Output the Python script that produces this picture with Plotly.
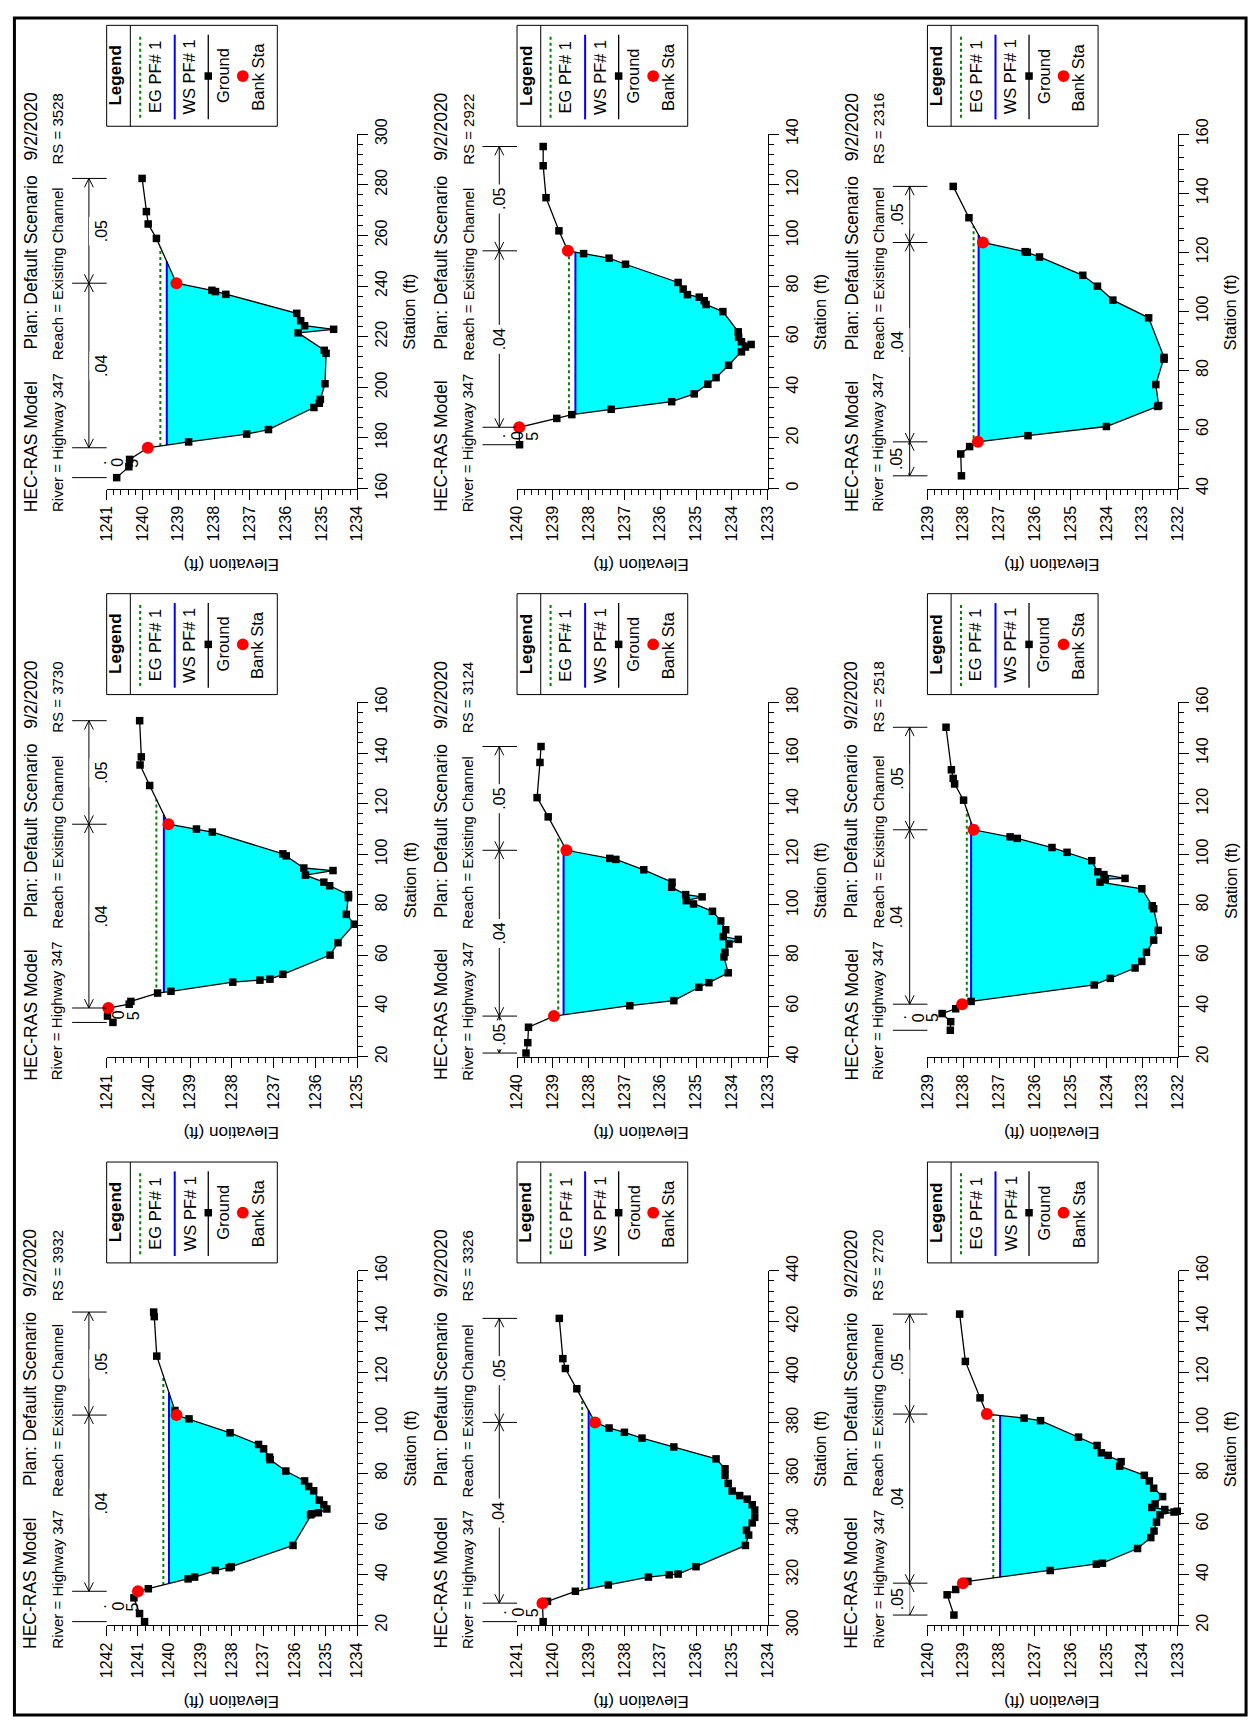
import numpy as np
import plotly.graph_objects as go

FIG_W, FIG_H = 1259, 1732
ROW_H = FIG_H / 3.0
COL_W = 416.0
FONT = "Liberation Sans, Arial, Helvetica, sans-serif"

# panel-relative pixel frame of each cross-section plot
PLOT_L, PLOT_R = 99, 353     # elevation axis (horizontal, reversed)
PLOT_T, PLOT_B = 120, 480    # station axis (vertical, on the right)
N_LINE_X = 81                # Manning's n bar
TICK_X0, TICK_X1 = 64, 99

# ---------------- cross-section data ----------------
river_sta = ["3528", "2922", "2316", "3730", "3124", "2518", "3932", "3326", "2720"]

sta_3528 = [164.3, 168.6, 171.5, 176.1, 178.4, 181.5, 183.3, 192.0, 193.7, 195.2, 201.4, 213.4, 214.6,
            221.5, 222.9, 224.3, 226.3, 229.2, 236.7, 237.8, 238.3, 241.1, 258.8, 264.5, 269.4, 282.5]
elev_3528 = [1240.72, 1240.38, 1240.36, 1239.85, 1238.71, 1237.09, 1236.48, 1235.21, 1235.06, 1235.03,
             1234.90, 1234.87, 1234.92, 1235.65, 1234.66, 1235.47, 1235.58, 1235.69, 1237.67, 1237.96,
             1238.06, 1239.05, 1239.61, 1239.84, 1239.89, 1240.01]

sta_2922 = [17.3, 24.2, 27.7, 29.2, 31.3, 34.3, 37.4, 41.2, 43.8, 48.7, 54.0, 55.9, 56.9, 58.0, 59.8, 61.9,
            69.9, 72.7, 74.2, 75.6, 76.6, 78.8, 81.4, 88.6, 91.0, 92.8, 93.9, 101.8, 114.9, 127.5, 135.1]
elev_2922 = [1239.93, 1239.94, 1238.89, 1238.47, 1237.37, 1235.68, 1235.05, 1234.67, 1234.44, 1234.09,
             1233.73, 1233.62, 1233.46, 1233.73, 1233.81, 1233.82, 1234.25, 1234.72, 1234.77, 1234.91,
             1235.24, 1235.36, 1235.50, 1236.97, 1237.43, 1238.14, 1238.58, 1238.83, 1239.19, 1239.27,
             1239.27]

sta_2316 = [44.3, 51.7, 54.2, 55.8, 57.9, 61.0, 67.8, 68.1, 75.2, 83.8, 84.4, 97.8, 103.8, 108.5, 112.2,
            118.4, 120.0, 120.2, 123.3, 131.7, 142.3]
elev_2316 = [1238.05, 1238.07, 1237.82, 1237.59, 1236.19, 1234.00, 1232.57, 1232.54, 1232.62, 1232.39,
             1232.39, 1232.82, 1233.82, 1234.25, 1234.66, 1235.87, 1236.21, 1236.27, 1237.45, 1237.84,
             1238.28]

sta_3730 = [33.6, 36.1, 39.3, 40.8, 41.9, 45.2, 45.9, 49.5, 50.3, 50.7, 52.6, 60.2, 65.1, 72.4, 76.3, 82.9,
            84.1, 87.6, 89.0, 91.8, 93.6, 94.6, 99.4, 100.2, 108.8, 110.0, 111.9, 127.2, 135.3, 138.5, 152.8]
elev_3730 = [1240.85, 1240.98, 1240.96, 1240.46, 1240.42, 1239.78, 1239.46, 1237.98, 1237.33, 1237.09,
             1236.78, 1235.65, 1235.46, 1235.07, 1235.26, 1235.21, 1235.21, 1235.66, 1235.80, 1236.24,
             1235.58, 1236.28, 1236.70, 1236.78, 1238.47, 1238.85, 1239.52, 1239.97, 1240.20, 1240.17,
             1240.21]

sta_3124 = [41.5, 45.6, 51.7, 56.1, 60.2, 62.2, 67.5, 69.3, 73.2, 79.5, 81.3, 84.6, 86.4, 87.5, 90.2, 93.7,
            97.5, 100.4, 101.7, 103.2, 104.1, 107.0, 109.0, 113.9, 118.0, 118.4, 121.6, 134.8, 142.4, 156.3,
            162.6]
elev_3124 = [1239.75, 1239.70, 1239.68, 1238.97, 1236.85, 1235.62, 1234.92, 1234.64, 1234.10, 1234.22,
             1234.19, 1234.08, 1233.82, 1234.24, 1234.17, 1234.31, 1234.54, 1235.07, 1235.27, 1234.83,
             1235.29, 1235.68, 1235.67, 1236.46, 1237.24, 1237.41, 1238.62, 1239.13, 1239.44, 1239.36,
             1239.33]

sta_2518 = [30.5, 33.9, 37.1, 39.0, 40.8, 41.9, 48.4, 51.0, 55.1, 57.7, 61.3, 66.1, 70.0, 78.5, 79.7, 86.4,
            89.0, 90.2, 90.5, 92.0, 93.1, 97.5, 100.8, 102.7, 106.3, 106.9, 109.7, 121.4, 127.8, 130.0,
            133.4, 150.2]
elev_2518 = [1238.36, 1238.35, 1238.59, 1238.21, 1238.03, 1237.78, 1234.34, 1233.89, 1233.20, 1233.01,
             1232.88, 1232.68, 1232.55, 1232.68, 1232.72, 1233.01, 1234.18, 1234.03, 1233.48, 1234.07,
             1234.24, 1234.41, 1235.10, 1235.52, 1236.49, 1236.69, 1237.71, 1237.99, 1238.24, 1238.28,
             1238.33, 1238.48]

sta_3932 = [21.4, 24.6, 30.8, 33.4, 34.4, 38.3, 39.0, 41.6, 42.7, 43.1, 51.5, 63.6, 64.0, 64.4, 65.9, 67.6,
            69.4, 73.1, 74.8, 77.0, 80.9, 85.4, 86.4, 89.7, 91.4, 96.0, 101.5, 103.0, 104.8, 126.3, 141.9,
            143.7]
elev_3932 = [1240.79, 1240.95, 1241.13, 1241.00, 1240.67, 1239.40, 1239.19, 1238.53, 1238.09, 1238.02,
             1236.05, 1235.49, 1235.45, 1235.24, 1234.97, 1235.07, 1235.21, 1235.39, 1235.55, 1235.68,
             1236.28, 1236.78, 1236.80, 1236.99, 1237.15, 1238.06, 1239.37, 1239.77, 1239.82, 1240.40,
             1240.48, 1240.50]

sta_3326 = [301.4, 308.7, 309.4, 313.4, 315.9, 319.0, 319.9, 320.2, 323.1, 331.5, 335.6, 337.5, 340.4,
            342.6, 345.5, 347.6, 349.8, 351.2, 353.0, 356.0, 359.2, 361.8, 365.7, 370.4, 373.9, 376.2,
            377.9, 380.1, 393.4, 401.4, 405.3, 421.2]
elev_3326 = [1240.27, 1240.29, 1240.15, 1239.37, 1238.45, 1237.33, 1236.75, 1236.50, 1236.00, 1234.62,
             1234.53, 1234.59, 1234.43, 1234.36, 1234.36, 1234.43, 1234.57, 1234.78, 1234.99, 1235.10,
             1235.19, 1235.19, 1235.44, 1236.62, 1237.51, 1238.00, 1238.43, 1238.82, 1239.33, 1239.65,
             1239.72, 1239.82]

sta_2720 = [24.0, 32.0, 34.1, 36.6, 37.3, 41.6, 44.1, 44.5, 50.3, 54.6, 57.2, 60.7, 63.6, 64.7, 65.0, 65.7,
            66.5, 67.9, 70.8, 74.1, 77.0, 79.2, 82.8, 84.6, 87.1, 88.1, 91.0, 94.3, 100.8, 101.8, 103.4,
            109.8, 124.2, 142.9]
elev_2720 = [1239.26, 1239.45, 1239.21, 1239.01, 1238.87, 1236.57, 1235.28, 1235.11, 1234.13, 1233.76,
             1233.67, 1233.60, 1233.50, 1233.11, 1233.02, 1233.37, 1233.73, 1233.64, 1233.43, 1233.68,
             1233.80, 1233.94, 1234.63, 1234.59, 1234.95, 1235.14, 1235.26, 1235.78, 1236.84, 1237.30,
             1238.34, 1238.53, 1238.94, 1239.10]

ground_sta = [sta_3528, sta_2922, sta_2316, sta_3730, sta_3124, sta_2518, sta_3932, sta_3326, sta_2720]
ground_elev = [elev_3528, elev_2922, elev_2316, elev_3730, elev_3124, elev_2518, elev_3932, elev_3326, elev_2720]

bank_sta = [(176.1, 241.1), (24.2, 93.9), (55.8, 123.3), (39.3, 111.9), (56.1, 121.6),
            (40.8, 109.7), (33.4, 103.0), (308.7, 380.1), (36.6, 103.4)]
ws_elev = [1239.32, 1238.37, 1237.57, 1239.63, 1238.70, 1237.78, 1240.01, 1239.00, 1237.97]
eg_elev = [1239.50, 1238.55, 1237.71, 1239.81, 1238.85, 1237.90, 1240.19, 1239.18, 1238.16]

elev_axis = [(1241, 1234), (1240, 1233), (1239, 1232), (1241, 1235), (1240, 1233),
             (1239, 1232), (1242, 1234), (1241, 1234), (1240, 1233)]
elev_minor = [0.2, 0.2, 0.2, 0.2, 0.2, 0.2, 0.25, 0.2, 0.2]
sta_axis = [(160, 300), (0, 140), (40, 160), (20, 160), (40, 180),
            (20, 160), (20, 160), (300, 440), (20, 160)]
lob_wrapped = [True, True, False, True, False, True, True, True, False]
n_values = [".05", ".04", ".05"]   # left overbank, channel, right overbank

title_line1 = [("HEC-RAS Model", 505), ("Plan: Default Scenario", 340), ("9/2/2020", 148)]
title_line2 = [("River = Highway 347", 505), ("Reach = Existing Channel", 351), ("RS = {}", 152)]

CYAN = "#00FFFF"
WS_BLUE = "#0000FF"
EG_GREEN = "#008000"
BANK_RED = "#FF0000"


def fx(x, col):
    return (x + COL_W * col) / FIG_W


def fy(y, row):
    return 1 - (y + ROW_H * row) / FIG_H


def wet_span(sta, elev, level):
    """Indices of the submerged ground run around the thalweg and its edge stations."""
    lo = int(np.argmin(elev))
    left = lo
    while left > 0 and elev[left - 1] < level:
        left -= 1
    right = lo
    while right < len(elev) - 1 and elev[right + 1] < level:
        right += 1

    def cross(a, b):
        t = (level - elev[a]) / (elev[b] - elev[a])
        return sta[a] + t * (sta[b] - sta[a])

    s_left = cross(left, left - 1) if left > 0 else sta[left]
    s_right = cross(right, right + 1) if right < len(elev) - 1 else sta[right]
    return left, right, s_left, s_right


fig = go.Figure()
shapes, annotations = [], []
layout_axes = {}


def text_ann(x, y, text, size, angle=-90, xanchor="center", yanchor="middle", bold=False, **kw):
    if bold:
        text = "<b>" + text + "</b>"
    d = dict(x=x, y=y, xref="paper", yref="paper", text=text, showarrow=False, textangle=angle,
             xanchor=xanchor, yanchor=yanchor, font=dict(family=FONT, size=size, color="black"),
             borderpad=0)
    d.update(kw)
    return d


for k in range(9):
    row, col = divmod(k, 3)
    xa = "x" if k == 0 else f"x{k + 1}"
    ya = "y" if k == 0 else f"y{k + 1}"
    sta = ground_sta[k]
    elev = ground_elev[k]
    assert len(sta) == len(elev)
    e_top, e_bot = elev_axis[k]
    s_min, s_max = sta_axis[k]
    ws, eg = ws_elev[k], eg_elev[k]
    bl, br = bank_sta[k]

    layout_axes["xaxis" if k == 0 else f"xaxis{k + 1}"] = dict(
        domain=[fx(PLOT_L, col), fx(PLOT_R, col)], range=[e_top, e_bot], anchor=ya, side="bottom",
        showline=True, linecolor="black", linewidth=1, ticks="outside", ticklen=10, tickcolor="black",
        tickwidth=1, dtick=1, tick0=0, tickangle=-90, showgrid=False, zeroline=False, fixedrange=True,
        tickfont=dict(family=FONT, size=16, color="black"),
        minor=dict(ticks="outside", ticklen=5, dtick=elev_minor[k], tick0=0, tickcolor="black",
                   showgrid=False))
    layout_axes["yaxis" if k == 0 else f"yaxis{k + 1}"] = dict(
        domain=[fy(PLOT_B, row), fy(PLOT_T, row)], range=[s_min, s_max], anchor=xa, side="right",
        showline=True, linecolor="black", linewidth=1, ticks="outside", ticklen=10, tickcolor="black",
        tickwidth=1, dtick=20, tick0=0, tickangle=-90, showgrid=False, zeroline=False, fixedrange=True,
        tickfont=dict(family=FONT, size=16, color="black"),
        minor=dict(ticks="outside", ticklen=5, dtick=4, tick0=0, tickcolor="black", showgrid=False))

    # water area below the water surface
    i0, i1, s_l, s_r = wet_span(sta, elev, ws)
    poly_x = [ws] + elev[i0:i1 + 1] + [ws]
    poly_y = [s_l] + sta[i0:i1 + 1] + [s_r]
    fig.add_trace(go.Scatter(x=poly_x, y=poly_y, xaxis=xa, yaxis=ya, mode="lines", fill="toself",
                             fillcolor=CYAN, line=dict(width=0, color="rgba(0,0,0,0)"),
                             hoverinfo="skip", showlegend=False))
    # energy grade line
    _, _, g_l, g_r = wet_span(sta, elev, eg)
    fig.add_trace(go.Scatter(x=[eg, eg], y=[g_l, g_r], xaxis=xa, yaxis=ya, mode="lines",
                             line=dict(color=EG_GREEN, width=2, dash="dot"), showlegend=False))
    # water surface
    fig.add_trace(go.Scatter(x=[ws, ws], y=[s_l, s_r], xaxis=xa, yaxis=ya, mode="lines",
                             line=dict(color=WS_BLUE, width=2), showlegend=False))
    # ground profile
    fig.add_trace(go.Scatter(x=elev, y=sta, xaxis=xa, yaxis=ya, mode="lines+markers",
                             line=dict(color="black", width=1.3),
                             marker=dict(symbol="square", size=7.5, color="black"),
                             cliponaxis=False, showlegend=False))
    # bank stations
    b_elev = list(np.interp([bl, br], sta, elev))
    fig.add_trace(go.Scatter(x=b_elev, y=[bl, br], xaxis=xa, yaxis=ya, mode="markers",
                             marker=dict(symbol="circle", size=12, color=BANK_RED),
                             cliponaxis=False, showlegend=False))

    # ---- Manning's n bar ----
    spp = (s_max - s_min) / float(PLOT_B - PLOT_T)
    nx = fx(N_LINE_X, col)
    half_w = 4.5 / FIG_W
    head = 9 * spp
    bounds = [sta[0], bl, br, sta[-1]]
    for s in bounds:
        shapes.append(dict(type="line", xref="paper", yref=ya, x0=fx(TICK_X0, col), x1=fx(TICK_X1, col),
                           y0=s, y1=s, line=dict(color="black", width=1)))
    for j in range(3):
        a, b = bounds[j], bounds[j + 1]
        mid = 0.5 * (a + b)
        if j == 0 and lob_wrapped[k]:
            for ch, cx in zip(list(n_values[0].replace(".", ".")), [82, 100, 115]):
                annotations.append(dict(x=fx(cx, col), y=mid, xref="paper", yref=ya, text=ch,
                                        showarrow=False, textangle=-90,
                                        font=dict(family=FONT, size=16, color="black")))
            continue
        shapes.append(dict(type="line", xref="paper", yref=ya, x0=nx, x1=nx, y0=a, y1=b,
                           line=dict(color="black", width=1)))
        for s, d in ((a, 1), (b, -1)):
            path = (f"M {nx - half_w},{s + d * head} L {nx},{s} L {nx + half_w},{s + d * head}")
            shapes.append(dict(type="path", xref="paper", yref=ya, path=path,
                               line=dict(color="black", width=1)))
        annotations.append(dict(x=nx, y=mid, xref="paper", yref=ya, text=n_values[j], showarrow=False,
                                textangle=-90, bgcolor="white", borderpad=3,
                                font=dict(family=FONT, size=16, color="black")))

    # ---- header text ----
    for txt, yb in title_line1:
        annotations.append(text_ann(fx(22, col), fy(yb, row), txt, 17.5, yanchor="bottom"))
    for txt, yb in title_line2:
        annotations.append(text_ann(fx(49, col), fy(yb, row), txt.format(river_sta[k]), 15,
                                    yanchor="bottom"))

    # ---- axis titles ----
    annotations.append(text_ann(fx(406, col), fy(301, row), "Station (ft)", 16.5))
    annotations.append(text_ann(fx(225, col), fy(557, row), "Elevation (ft)", 17, angle=180))

    # ---- legend box ----
    shapes.append(dict(type="rect", xref="paper", yref="paper", x0=fx(99, col), x1=fx(272, col),
                       y0=fy(9.5, row), y1=fy(112, row), line=dict(color="black", width=1)))
    shapes.append(dict(type="line", xref="paper", yref="paper", x0=fx(123, col), x1=fx(123, col),
                       y0=fy(9.5, row), y1=fy(112, row), line=dict(color="black", width=1)))
    annotations.append(text_ann(fx(108, col), fy(61, row), "Legend", 17, bold=True))
    shapes.append(dict(type="line", xref="paper", yref="paper", x0=fx(133, col), x1=fx(133, col),
                       y0=fy(21, row), y1=fy(105, row), line=dict(color=EG_GREEN, width=2, dash="dot")))
    annotations.append(text_ann(fx(148, col), fy(62, row), "EG PF# 1", 16.5))
    shapes.append(dict(type="line", xref="paper", yref="paper", x0=fx(168, col), x1=fx(168, col),
                       y0=fy(19, row), y1=fy(105, row), line=dict(color=WS_BLUE, width=2)))
    annotations.append(text_ann(fx(183, col), fy(62, row), "WS PF# 1", 16.5))
    shapes.append(dict(type="line", xref="paper", yref="paper", x0=fx(202, col), x1=fx(202, col),
                       y0=fy(19, row), y1=fy(105, row), line=dict(color="black", width=1.3)))
    shapes.append(dict(type="rect", xref="paper", yref="paper", x0=fx(198.2, col), x1=fx(205.8, col),
                       y0=fy(57.2, row), y1=fy(64.8, row), fillcolor="black", line=dict(width=0)))
    annotations.append(text_ann(fx(217, col), fy(61, row), "Ground", 16.5))
    shapes.append(dict(type="circle", xref="paper", yref="paper", x0=fx(231, col), x1=fx(243, col),
                       y0=fy(55, row), y1=fy(67, row), fillcolor=BANK_RED, line=dict(width=0)))
    annotations.append(text_ann(fx(252, col), fy(62, row), "Bank Sta", 16.5))

# outer frame
shapes.append(dict(type="rect", xref="paper", yref="paper", x0=5.5 / FIG_W, x1=1254 / FIG_W,
                   y0=1 - 2 / FIG_H, y1=1 - 1726 / FIG_H, line=dict(color="black", width=3)))

fig.update_layout(width=FIG_W, height=FIG_H, margin=dict(l=0, r=0, t=0, b=0),
                  paper_bgcolor="white", plot_bgcolor="white", showlegend=False,
                  shapes=shapes, annotations=annotations, **layout_axes)

fig.write_html("out.html")
